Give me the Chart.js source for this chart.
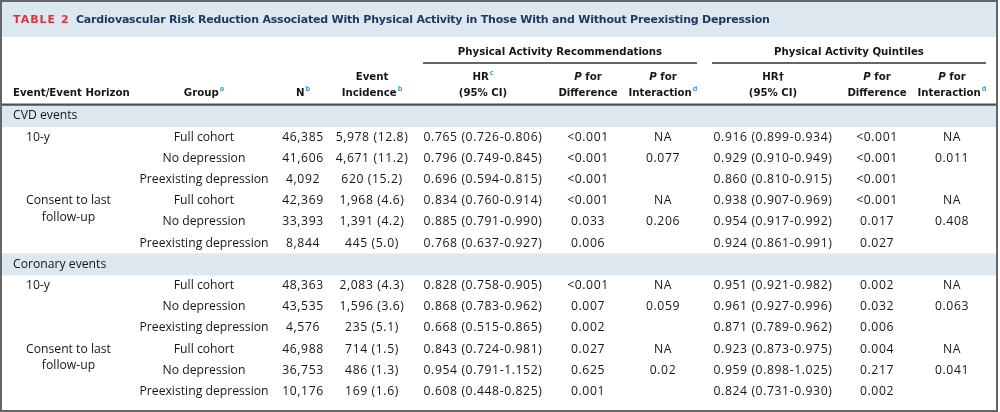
<!DOCTYPE html>
<html>
<head>
<meta charset="utf-8">
<title>Table 2</title>
<script src="https://cdn.jsdelivr.net/npm/chart.js@4.4.1/dist/chart.umd.min.js"></script>
<style>
  html, body { margin: 0; padding: 0; background: #fff; }
  #wrap { width: 1000px; height: 412px; }
</style>
</head>
<body>
<div id="wrap"><canvas id="table-chart"></canvas></div>
<script>
// ---- table content ----
const TITLE_TAG = 'TABLE 2';
const TITLE_TEXT = 'Cardiovascular Risk Reduction Associated With Physical Activity in Those With and Without Preexisting Depression';
const SPANNERS = ['Physical Activity Recommendations', 'Physical Activity Quintiles'];
// '|' splits lines, _x_ is italic, ^x is a footnote mark
const HEADERS = ['Event/Event Horizon', 'Group^a', 'N^b', 'Event|Incidence^b', 'HR^c|(95% CI)', '_P_ for|Difference', '_P_ for|Interaction^d', 'HR\u2020|(95% CI)', '_P_ for|Difference', '_P_ for|Interaction^d'];
const SECTIONS = ['CVD events', 'Coronary events'];
const HORIZONS = ['10-y', 'Consent to last|follow-up'];
const GROUPS = ['Full cohort', 'No depression', 'Preexisting depression'];

const N_TOTAL = ['46,385', '41,606', '4,092', '42,369', '33,393', '8,844', '48,363', '43,535', '4,576', '46,988', '36,753', '10,176'];
const INCIDENCE = ['5,978 (12.8)', '4,671 (11.2)', '620 (15.2)', '1,968 (4.6)', '1,391 (4.2)', '445 (5.0)', '2,083 (4.3)', '1,596 (3.6)', '235 (5.1)', '714 (1.5)', '486 (1.3)', '169 (1.6)'];
const HR_RECOMMEND = ['0.765 (0.726-0.806)', '0.796 (0.749-0.845)', '0.696 (0.594-0.815)', '0.834 (0.760-0.914)', '0.885 (0.791-0.990)', '0.768 (0.637-0.927)', '0.828 (0.758-0.905)', '0.868 (0.783-0.962)', '0.668 (0.515-0.865)', '0.843 (0.724-0.981)', '0.954 (0.791-1.152)', '0.608 (0.448-0.825)'];
const P_DIFF_RECOMMEND = ['<0.001', '<0.001', '<0.001', '<0.001', '0.033', '0.006', '<0.001', '0.007', '0.002', '0.027', '0.625', '0.001'];
const P_INT_RECOMMEND = ['NA', '0.077', '', 'NA', '0.206', '', 'NA', '0.059', '', 'NA', '0.02', ''];
const HR_QUINTILE = ['0.916 (0.899-0.934)', '0.929 (0.910-0.949)', '0.860 (0.810-0.915)', '0.938 (0.907-0.969)', '0.954 (0.917-0.992)', '0.924 (0.861-0.991)', '0.951 (0.921-0.982)', '0.961 (0.927-0.996)', '0.871 (0.789-0.962)', '0.923 (0.873-0.975)', '0.959 (0.898-1.025)', '0.824 (0.731-0.930)'];
const P_DIFF_QUINTILE = ['<0.001', '<0.001', '<0.001', '<0.001', '0.017', '0.027', '0.002', '0.032', '0.006', '0.004', '0.217', '0.002'];
const P_INT_QUINTILE = ['NA', '0.011', '', 'NA', '0.408', '', 'NA', '0.063', '', 'NA', '0.041', ''];

// ---- look ----
const BODY_FONT = '"Open Sans", sans-serif';
const HEAD_FONT = '"DejaVu Sans", sans-serif';
const INK = '#161616';
const NAVY = '#1d3a63';
const RED = '#d8353b';
const SUP = '#3a9ad9';
const BAND = '#dde7f0';
const RULE = '#505050';

// x scale runs 0..1000 across the page, y scale is in table rows (row 0 = first section band)
const COL_X = [13, 204, 303, 372, 483, 588, 663, 773, 877, 952];
const SPAN_X = [[423, 697], [712, 986]];
const Y_RANGE = [-5.472, 13.962];
const HEAD_Y = { bandTop: -5.38, bandBottom: -3.73, title: -4.53, spanner: -3.0, spanRule: -2.5, line1: -1.84, line2: -1.085, rule: -0.54 };

const groupColumn = N_TOTAL.map((v, k) => GROUPS[k % 3]);
const bodyColumns = [groupColumn, N_TOTAL, INCIDENCE, HR_RECOMMEND, P_DIFF_RECOMMEND, P_INT_RECOMMEND, HR_QUINTILE, P_DIFF_QUINTILE, P_INT_QUINTILE];

/**
 * Table row for the k-th data line (each section adds one band row)
 */
function rowOf(k) {
  return Math.floor(k / 6) * 7 + 1 + (k % 6);
}

const datasets = bodyColumns.map((values, c) => ({
  data: values.map((v, k) => ({ x: COL_X[c + 1], y: rowOf(k) })),
  cellText: values,
  numeric: c > 0,
  align: 'center',
}));
datasets.push({
  data: SECTIONS.map((s, i) => ({ x: COL_X[0], y: i * 7 })),
  cellText: SECTIONS,
  align: 'left',
});
datasets.push({
  data: SECTIONS.flatMap((s, i) => HORIZONS.map((h, j) => ({ x: COL_X[0] + 13, y: i * 7 + 1 + j * 3 }))),
  cellText: SECTIONS.flatMap(() => HORIZONS),
  align: 'left',
});
datasets.forEach((d) => { d.pointRadius = 0; d.pointHoverRadius = 0; });

function parseRuns(line) {
  const runs = [];
  const re = /_([^_]+)_|\^(\w)|([^_^]+)/g;
  let m;
  while ((m = re.exec(line))) {
    if (m[1]) runs.push({ t: m[1], style: 'italic' });
    else if (m[2]) runs.push({ t: m[2], style: 'sup' });
    else runs.push({ t: m[3], style: 'plain' });
  }
  return runs;
}

function drawRuns(ctx, line, x, y, align, size) {
  const runs = parseRuns(line);
  const fontFor = (r) => r.style === 'sup' ? `bold ${size * 0.72}px ${BODY_FONT}`
    : `${r.style === 'italic' ? 'italic ' : ''}bold ${size}px ${HEAD_FONT}`;
  let total = 0;
  runs.forEach((r) => {
    ctx.font = fontFor(r);
    r.w = ctx.measureText(r.t).width + (r.style === 'sup' ? 1 : 0);
    total += r.w;
  });
  let cx = align === 'center' ? x - total / 2 : x;
  ctx.textAlign = 'left';
  runs.forEach((r) => {
    ctx.font = fontFor(r);
    ctx.fillStyle = r.style === 'sup' ? SUP : INK;
    ctx.fillText(r.t, cx + (r.style === 'sup' ? 1 : 0), r.style === 'sup' ? y - size * 0.4 : y);
    cx += r.w;
  });
}

const tablePlugin = {
  id: 'tableCells',
  beforeDatasetsDraw(chart) {
    const { ctx, scales: { x, y } } = chart;
    const left = x.getPixelForValue(0);
    const right = x.getPixelForValue(997);
    ctx.save();
    // shaded bands: title and section rows
    ctx.fillStyle = BAND;
    ctx.fillRect(left, y.getPixelForValue(HEAD_Y.bandTop), right - left,
      y.getPixelForValue(HEAD_Y.bandBottom) - y.getPixelForValue(HEAD_Y.bandTop));
    SECTIONS.forEach((s, i) => {
      const top = y.getPixelForValue(i * 7 - 0.52);
      ctx.fillRect(left, top, right - left, y.getPixelForValue(i * 7 + 0.52) - top);
    });
    // rules
    ctx.strokeStyle = '#333';
    ctx.lineWidth = 1.5;
    SPAN_X.forEach(([a, b]) => {
      ctx.beginPath();
      ctx.moveTo(x.getPixelForValue(a), y.getPixelForValue(HEAD_Y.spanRule));
      ctx.lineTo(x.getPixelForValue(b), y.getPixelForValue(HEAD_Y.spanRule));
      ctx.stroke();
    });
    ctx.strokeStyle = RULE;
    ctx.lineWidth = 2.2;
    ctx.beginPath();
    ctx.moveTo(left, y.getPixelForValue(HEAD_Y.rule));
    ctx.lineTo(right, y.getPixelForValue(HEAD_Y.rule));
    ctx.stroke();
    // frame
    ctx.strokeStyle = '#666';
    ctx.lineWidth = 2;
    ctx.strokeRect(x.getPixelForValue(1), y.getPixelForValue(Y_RANGE[0]) + 1, right - x.getPixelForValue(1),
      y.getPixelForValue(Y_RANGE[1]) - y.getPixelForValue(Y_RANGE[0]) - 2);
    ctx.restore();
  },
  afterDatasetsDraw(chart) {
    const { ctx, scales: { x, y } } = chart;
    ctx.save();
    ctx.textBaseline = 'middle';

    // title
    ctx.font = `bold 11px ${HEAD_FONT}`;
    ctx.letterSpacing = '1px';
    ctx.fillStyle = RED;
    ctx.textAlign = 'left';
    ctx.fillText(TITLE_TAG, x.getPixelForValue(13), y.getPixelForValue(HEAD_Y.title));
    ctx.letterSpacing = '-0.2px';
    ctx.font = `bold 11px ${HEAD_FONT}`;
    ctx.fillStyle = NAVY;
    ctx.fillText(TITLE_TEXT, x.getPixelForValue(76), y.getPixelForValue(HEAD_Y.title));
    ctx.letterSpacing = '0px';

    // spanners and column heads
    SPANNERS.forEach((s, i) => {
      drawRuns(ctx, s, x.getPixelForValue((SPAN_X[i][0] + SPAN_X[i][1]) / 2), y.getPixelForValue(HEAD_Y.spanner), 'center', 10.2);
    });
    HEADERS.forEach((h, c) => {
      const lines = h.split('|');
      const ys = lines.length === 1 ? [HEAD_Y.line2] : [HEAD_Y.line1, HEAD_Y.line2];
      lines.forEach((line, i) => {
        drawRuns(ctx, line, x.getPixelForValue(COL_X[c]), y.getPixelForValue(ys[i]), c === 0 ? 'left' : 'center', 10.2);
      });
    });

    // body cells at the positions Chart.js computed
    ctx.fillStyle = INK;
    chart.data.datasets.forEach((ds, di) => {
      const meta = chart.getDatasetMeta(di);
      ds.cellText.forEach((text, i) => {
        const el = meta.data[i];
        if (!text) return;
        ctx.font = `12.2px ${BODY_FONT}`;
        ctx.letterSpacing = ds.numeric ? '0.6px' : '0px';
        const lines = text.split('|');
        const w0 = ctx.measureText(lines[0]).width;
        ctx.textAlign = 'center';
        lines.forEach((line, li) => {
          let cx = el.x;
          if (ds.align === 'left') {
            cx = lines.length > 1 ? el.x + w0 / 2 : el.x + ctx.measureText(line).width / 2;
          }
          ctx.fillText(line, cx, el.y + li * 16.5);
        });
      });
    });
    ctx.restore();
  },
};

const tableChart = new Chart(document.getElementById('table-chart').getContext('2d'), {
  type: 'scatter',
  data: { datasets },
  options: {
    responsive: true,
    maintainAspectRatio: false,
    animation: false,
    events: [],
    layout: { padding: 0, autoPadding: false },
    plugins: { legend: { display: false }, tooltip: { enabled: false } },
    scales: {
      x: { type: 'linear', min: 0, max: 1000, display: false },
      y: { type: 'linear', min: Y_RANGE[0], max: Y_RANGE[1], reverse: true, display: false },
    },
  },
  plugins: [tablePlugin],
});
</script>
</body>
</html>
